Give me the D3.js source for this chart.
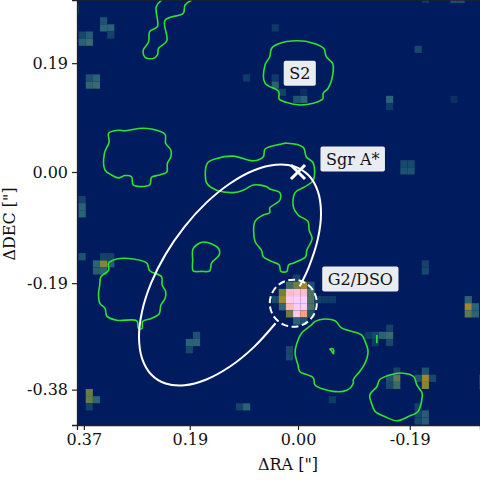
<!DOCTYPE html>
<html><head><meta charset="utf-8">
<script src="https://cdn.jsdelivr.net/npm/d3@7"></script>
<style>html,body{margin:0;padding:0;background:#fff}svg{display:block}text{font-family:"DejaVu Serif",serif}</style>
</head><body><div id="chart"></div>
<script>
// All positions are offsets from Sgr A* in milli-arcseconds [dRA, dDEC].
const raTicks=[364,184,0,-190], raTickLabels=["0.37","0.19","0.00","-0.19"];
const decTicks=[185,0,-189,-370], decTickLabels=["0.19","0.00","-0.19","-0.38"];
const raDomain=[375.7,-309.4], decDomain=[292.4,-430.1];
const cellMas=12.155, gridRa0=373, gridDec0=287.5;
const colorStops=["#011c5e","#12426a","#2a6276","#4b7362","#6f7e42","#9d892b","#d29343","#f8a17b","#fdb7bc","#fcc4dc","#facdfa"];
// [column, row, normalised flux]
const fluxCells=[[3,2,.15],[3,3,.2],[4,3,.2],[4,4,.1],[0,4,.12],[1,4,.18],[0,5,.2],[1,5,.25],[1,10,.15],[2,10,.2],[1,11,.22],[2,11,.25],[0,27,.1],[0,28,.2],[0,29,.2],[-1,22,.05],[-1,23,.05],
[27,3,.08],[23,10,.08],[27,10,.08],[27,11,.2],[28,12,.1],[30,13,.15],[31,13,.2],[31,12,.05],[47,6,.12],[43,13,.2],[43,14,.08],[52,13,.05],[45,22,.12],[46,22,.12],[45,23,.15],[46,23,.15],[48,-1,.08],[52,-1,.15],[53,-1,.15],
[0,35,.15],[2,36,.2],[3,36,.45],[2,37,.18],[3,37,.2],[4,36,.18],[3,35,.1],[4,35,.1],[16,46,.15],[15,47,.2],[16,47,.2],[15,48,.12],[1,54,.38],[1,55,.38],[2,55,.2],[1,56,.1],[22,56,.1],[23,56,.2],
[30,38,.1],[29,39,.25],[30,39,.4],[31,39,.5],[32,39,.15],[28,40,.4],[29,40,.85],[30,40,.9],[31,40,.85],[32,40,.3],[27,41,.12],[28,41,.5],[29,41,.95],[30,41,1],[31,41,1],[32,41,.3],[33,41,.1],[28,42,.22],[29,42,.8],[30,42,1],[31,42,1],[32,42,.3],[29,43,.4],[30,43,.95],[31,43,.7],[32,43,.15],[30,44,.2],[31,44,.15],
[34,41,.08],[35,41,.08],[48,36,.1],[48,37,.12],[54,41,.2],[54,42,.5],[54,43,.35],[55,42,.2],[55,43,.2],[40,46,.08],[41,46,.12],[42,46,.2],[43,46,.25],[43,45,.1],[43,47,.12],[41,47,.08],[29,48,.12],[29,49,.12],[35,55,.08],[44,51,.1],[43,52,.15],[44,52,.35],[43,53,.12],[44,53,.25],[48,51,.15],[48,52,.5],[48,53,.45],[47,52,.15],[49,52,.12],[47,56,.1],[47,57,.12],[48,57,.18],[47,58,.12],[48,58,.18],[56,52,.1],[56,53,.1]];
// Radio contours
const contourTop=[[232,292],[241,281],[239,247],[252,239],[254,221],[263,207],[260,195],[246,193],[239,199],[237,210],[223,223],[226,258],[195,270],[192,284],[181,292]];
const contourEdge=[[375,284],[375,269]];
const contourS2=[[33,218],[2,223],[-26,219],[-44,210],[-48,196],[-59,184],[-59,165],[-51,142],[-43,134],[-42,124],[-26,117],[-3,114],[19,118],[32,124],[33,137],[56,151],[56,182],[48,196],[45,210]];
const contourWest=[[322,66],[305,71],[294,70],[271,74],[249,73],[226,64],[225,49],[216,37],[216,26],[222,15],[223,0],[235,-5],[249,-9],[252,-22],[280,-22],[283,-8],[294,-6],[305,-10],[317,-5],[328,3],[329,32],[321,51]];
const contourCentre=[[154,15],[138,23],[110,27],[76,19],[59,26],[56,39],[31,47],[19,49],[-9,42],[-14,26],[-26,15],[-26,-14],[-12,-25],[5,-35],[8,-59],[0,-73],[-17,-84],[-19,-99],[-24,-113],[-15,-133],[-13,-144],[8,-155],[16,-158],[19,-169],[29,-169],[32,-158],[45,-152],[59,-144],[62,-133],[73,-118],[73,-84],[59,-73],[48,-69],[48,-61],[31,-48],[31,-35],[48,-29],[53,-25],[76,-22],[93,-31],[110,-35],[138,-31],[155,-19]];
const contourSmall=[[178,-130],[161,-119],[135,-130],[134,-141],[147,-155],[150,-168],[164,-169],[178,-168],[179,-150]];
const contourSW=[[322,-155],[308,-148],[280,-148],[257,-155],[252,-168],[232,-178],[231,-192],[225,-203],[226,-215],[233,-226],[236,-241],[249,-249],[264,-254],[265,-266],[271,-266],[274,-253],[308,-252],[325,-245],[328,-232],[337,-223],[339,-206],[337,-192],[335,-178],[322,-167]];
const contourSE=[[-29,-254],[-46,-250],[-63,-253],[-74,-265],[-108,-277],[-114,-288],[-119,-305],[-114,-325],[-105,-339],[-94,-353],[-94,-359],[-83,-371],[-60,-373],[-29,-362],[-26,-350],[-3,-339],[0,-328],[5,-308],[2,-291],[-6,-274],[-23,-260]];
const contourDot=[[-54,-301],[-60,-301],[-60,-309],[-57,-304]];
const contourBar=[[-134,-277],[-134,-291]];
const contourFar=[[-139,-353],[-156,-345],[-179,-342],[-197,-348],[-202,-362],[-211,-376],[-210,-390],[-204,-407],[-187,-416],[-168,-423],[-148,-416],[-131,-407],[-125,-393],[-122,-379],[-134,-365]];
const closedContours=[contourS2,contourWest,contourCentre,contourSmall,contourSW,contourSE,contourDot,contourFar];
const openContours=[contourTop,contourEdge,contourBar];
// Orbit, broken where it enters the G2 circle
const orbit=[[-2.9,-194.4],[-18.4,-161.6],[-33.8,-113.6],[-39.1,-69.7],[-33.8,-33],[-18.4,-6],[6.2,9.4],[38.2,12.3],[75.5,2.5],[115.6,-19.5],[155.7,-52.1],[193,-93.1],[225,-139.6],[249.6,-188.6],[265,-236.6],[270.3,-280.5],[265,-317.2],[249.6,-344.2],[225,-359.6],[193,-362.5],[155.7,-352.7],[115.6,-330.7],[75.5,-298.1],[38.2,-257.1]];
const g2=[8,-223], g2RadiusMas=40;
const sgrA=[0,0];
const labels=[{text:"S2",pos:[-3,168]},{text:"Sgr A*",pos:[-93,22]},{text:"G2/DSO",pos:[-106,-182]}];
const xTitle='\u0394RA ["]', yTitle='\u0394DEC ["]';

const W=480,H=480,L=77,R=480,T=0,B=425;
const x=d3.scaleLinear().domain(raDomain).range([L,R]);
const y=d3.scaleLinear().domain(decDomain).range([T,B]);
const color=d3.scaleLinear().domain(d3.range(colorStops.length).map(i=>i/(colorStops.length-1))).range(colorStops);
const svg=d3.select("#chart").append("svg").attr("width",W).attr("height",H);
const defs=svg.append("defs");
defs.append("clipPath").attr("id","plot").append("rect").attr("x",L).attr("y",T).attr("width",R-L).attr("height",B-T);
defs.append("filter").attr("id","soft").attr("x","-5%").attr("y","-5%").attr("width","110%").attr("height","110%").append("feGaussianBlur").attr("stdDeviation",.5);
const g=svg.append("g").attr("clip-path","url(#plot)");
g.append("rect").attr("x",L).attr("y",T).attr("width",R-L).attr("height",B-T).attr("fill",color(0));
g.append("g").attr("filter","url(#soft)").selectAll("rect.cell").data(fluxCells).join("rect").attr("class","cell")
 .attr("x",d=>x(gridRa0-d[0]*cellMas)).attr("y",d=>y(gridDec0-d[1]*cellMas))
 .attr("width",x(-cellMas)-x(0)).attr("height",y(-cellMas)-y(0))
 .attr("fill",d=>color(d[2]));
const closed=d3.line().x(d=>x(d[0])).y(d=>y(d[1])).curve(d3.curveCatmullRomClosed.alpha(.5));
const open=d3.line().x(d=>x(d[0])).y(d=>y(d[1])).curve(d3.curveCatmullRom.alpha(.5));
g.selectAll("path.cc").data(closedContours).join("path").attr("class","cc").attr("d",closed).attr("fill","none").attr("stroke","#2fe22f").attr("stroke-width",1.6);
g.selectAll("path.oc").data(openContours).join("path").attr("class","oc").attr("d",open).attr("fill","none").attr("stroke","#2fe22f").attr("stroke-width",1.6);
g.append("path").attr("d",open(orbit)).attr("fill","none").attr("stroke","#fff").attr("stroke-width",2);
g.append("circle").attr("cx",x(g2[0])).attr("cy",y(g2[1])).attr("r",x(0)-x(g2RadiusMas)).attr("fill","none").attr("stroke","#fff").attr("stroke-width",2).attr("stroke-dasharray","7 3.5");
g.append("path").attr("transform",`translate(${x(sgrA[0])},${y(sgrA[1])})`).attr("d",d3.symbol().type(d3.symbolTimes).size(130)()).attr("fill","none").attr("stroke","#fff").attr("stroke-width",3);

const xA=d3.axisBottom(x).tickValues(raTicks).tickSize(5).tickPadding(4).tickFormat((d,i)=>raTickLabels[i]);
const yA=d3.axisLeft(y).tickValues(decTicks).tickSize(5).tickPadding(4).tickFormat((d,i)=>decTickLabels[i]);
const ax=svg.append("g").attr("transform",`translate(0,${B})`).call(xA);
const ay=svg.append("g").attr("transform",`translate(${L},0)`).call(yA);
[ax,ay].forEach(a=>{a.selectAll("path.domain").attr("stroke","#222").attr("stroke-width",1.3);
 a.selectAll(".tick line").attr("stroke","#222").attr("stroke-width",1.2);
 a.selectAll("text").attr("font-size",16).attr("font-family","DejaVu Serif").attr("fill","#111");});
svg.append("line").attr("x1",L).attr("x2",R).attr("y1",0.4).attr("y2",0.4).attr("stroke","#222").attr("stroke-width",.8);
svg.append("text").attr("x",288).attr("y",470).attr("text-anchor","middle").attr("font-size",16).attr("fill","#111").text(xTitle);
svg.append("text").attr("transform","translate(15,224) rotate(-90)").attr("text-anchor","middle").attr("font-size",16).attr("fill","#111").text(yTitle);

labels.forEach(l=>{
 const gg=svg.append("g").attr("transform",`translate(${x(l.pos[0])},${y(l.pos[1])})`);
 const t=gg.append("text").attr("text-anchor","middle").attr("dy","0.36em").attr("font-size",16).attr("fill","#111").text(l.text);
 const b=t.node().getBBox();
 gg.insert("rect","text").attr("x",b.x-5.5).attr("y",-12.5).attr("width",b.width+11).attr("height",25).attr("rx",2).attr("fill","#e9ecf1");
});
</script></body></html>
